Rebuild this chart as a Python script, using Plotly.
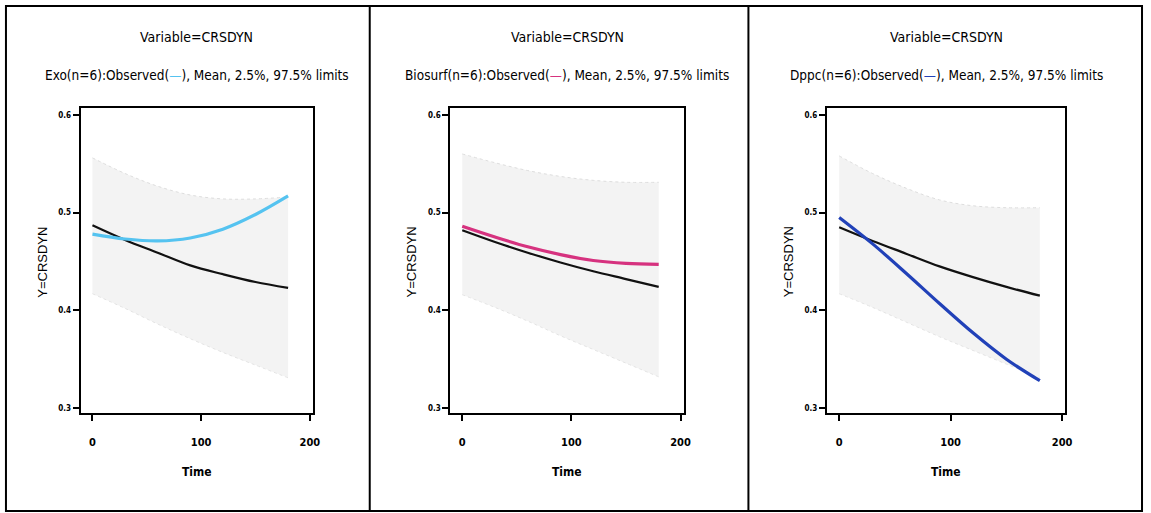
import plotly.graph_objects as go

W, H = 1151, 513

# Time grid shared by all three treatment groups
time = [0, 30, 60, 90, 120, 150, 180]

groups = ["Exo", "Biosurf", "Dppc"]
colors = ["#55c3f0", "#d6327f", "#2141b8"]

# Observed CRSDYN profile per group
observed = {
    "Exo":     [0.478, 0.473, 0.471, 0.474, 0.483, 0.498, 0.517],
    "Biosurf": [0.486, 0.475, 0.465, 0.457, 0.451, 0.448, 0.447],
    "Dppc":    [0.495, 0.468, 0.438, 0.407, 0.377, 0.350, 0.328],
}
# Model mean
mean = {
    "Exo":     [0.487, 0.472, 0.459, 0.446, 0.437, 0.429, 0.423],
    "Biosurf": [0.482, 0.470, 0.459, 0.449, 0.440, 0.432, 0.424],
    "Dppc":    [0.485, 0.471, 0.458, 0.445, 0.434, 0.424, 0.415],
}
# 97.5% and 2.5% limits
upper = {
    "Exo":     [0.556, 0.540, 0.527, 0.518, 0.514, 0.514, 0.516],
    "Biosurf": [0.560, 0.551, 0.543, 0.537, 0.533, 0.531, 0.531],
    "Dppc":    [0.558, 0.540, 0.525, 0.513, 0.507, 0.505, 0.505],
}
lower = {
    "Exo":     [0.417, 0.402, 0.386, 0.371, 0.357, 0.344, 0.331],
    "Biosurf": [0.416, 0.403, 0.389, 0.374, 0.360, 0.346, 0.332],
    "Dppc":    [0.417, 0.403, 0.388, 0.373, 0.359, 0.345, 0.331],
}

y_ticks = [0.3, 0.4, 0.5, 0.6]
y_ticktext = ["0.3", "0.4", "0.5", "0.6"]
x_ticks = [0, 100, 200]
x_ticktext = ["0", "100", "200"]

# plot-area pixel boxes (left, right) and shared top/bottom
plot_lr = [(81, 315), (453, 688), (832, 1072)]
plot_top, plot_bot = 108, 413

NARROW = "DejaVu Sans Condensed, Liberation Sans Narrow, sans-serif"
REG = "Liberation Sans, Arial, sans-serif"


def px(x):
    return x / W


def py(y):
    return 1 - y / H


fig = go.Figure()
annotations = []

for i, g in enumerate(groups):
    n = "" if i == 0 else str(i + 1)
    xa, ya = "x" + n, "y" + n
    col = colors[i]

    # uncertainty band
    fig.add_trace(go.Scatter(
        x=time, y=upper[g], mode="lines", line=dict(color="#dddddd", width=1, dash="dot", shape="spline"),
        xaxis=xa, yaxis=ya, showlegend=False, hoverinfo="skip"))
    fig.add_trace(go.Scatter(
        x=time, y=lower[g], mode="lines", line=dict(color="#e4e4e4", width=1, dash="dot", shape="spline"),
        fill="tonexty", fillcolor="#f3f3f3",
        xaxis=xa, yaxis=ya, showlegend=False, hoverinfo="skip"))
    # model mean
    fig.add_trace(go.Scatter(
        x=time, y=mean[g], mode="lines", line=dict(color="#111111", width=2.2, shape="spline"),
        xaxis=xa, yaxis=ya, showlegend=False))
    # observed
    fig.add_trace(go.Scatter(
        x=time, y=observed[g], mode="lines", line=dict(color=col, width=3.2, shape="spline"),
        xaxis=xa, yaxis=ya, showlegend=False))

    l, r = plot_lr[i]
    axis_common = dict(showline=True, linecolor="black", linewidth=2, mirror=True,
                       ticks="outside", ticklen=6, tickwidth=2, tickcolor="black",
                       showgrid=False, zeroline=False)
    fig.update_layout(**{
        ("xaxis" + n): dict(domain=[px(l), px(r)], anchor=ya, range=[-11, 203],
                            tickvals=x_ticks, ticktext=x_ticktext, ticklabelstandoff=12,
                            tickfont=dict(family=NARROW, size=11, color="black", weight="bold"),
                            **axis_common),
        ("yaxis" + n): dict(domain=[py(plot_bot), py(plot_top)], anchor=xa, range=[0.295, 0.607],
                            tickvals=y_ticks, ticktext=y_ticktext,
                            tickfont=dict(family=NARROW, size=8, color="black", weight="bold"),
                            **axis_common),
    })

    cx = px((l + r) / 2)
    common = dict(xref="paper", yref="paper", showarrow=False, xanchor="center", yanchor="middle")
    annotations.append(dict(text="Variable=CRSDYN", x=cx, y=py(37),
                            font=dict(family=NARROW, size=14, color="black"), **common))
    annotations.append(dict(
        text=f"{g}(n=6):Observed(<span style='color:{col}'>—</span>), Mean, 2.5%, 97.5% limits",
        x=cx, y=py(75), font=dict(family=NARROW, size=13.5, color="black"), **common))
    annotations.append(dict(text="<b>Time</b>", x=cx, y=py(472),
                            font=dict(family=NARROW, size=12, color="black"), **common))
    annotations.append(dict(text="Y=CRSDYN", x=px(l - 39), y=py(262), textangle=-90,
                            font=dict(family=REG, size=13, color="black"), **common))

# panel frames
shapes = [
    dict(type="rect", xref="paper", yref="paper", x0=px(6), x1=px(1149), y0=py(511), y1=py(6),
         line=dict(color="black", width=2)),
    dict(type="line", xref="paper", yref="paper", x0=px(372), x1=px(372), y0=py(511), y1=py(6),
         line=dict(color="black", width=2)),
    dict(type="line", xref="paper", yref="paper", x0=px(753), x1=px(753), y0=py(511), y1=py(6),
         line=dict(color="black", width=2)),
]

fig.update_layout(width=W, height=H, margin=dict(l=0, r=0, t=0, b=0),
                  paper_bgcolor="white", plot_bgcolor="white",
                  annotations=annotations, shapes=shapes, showlegend=False)

fig.write_html("out.html")
